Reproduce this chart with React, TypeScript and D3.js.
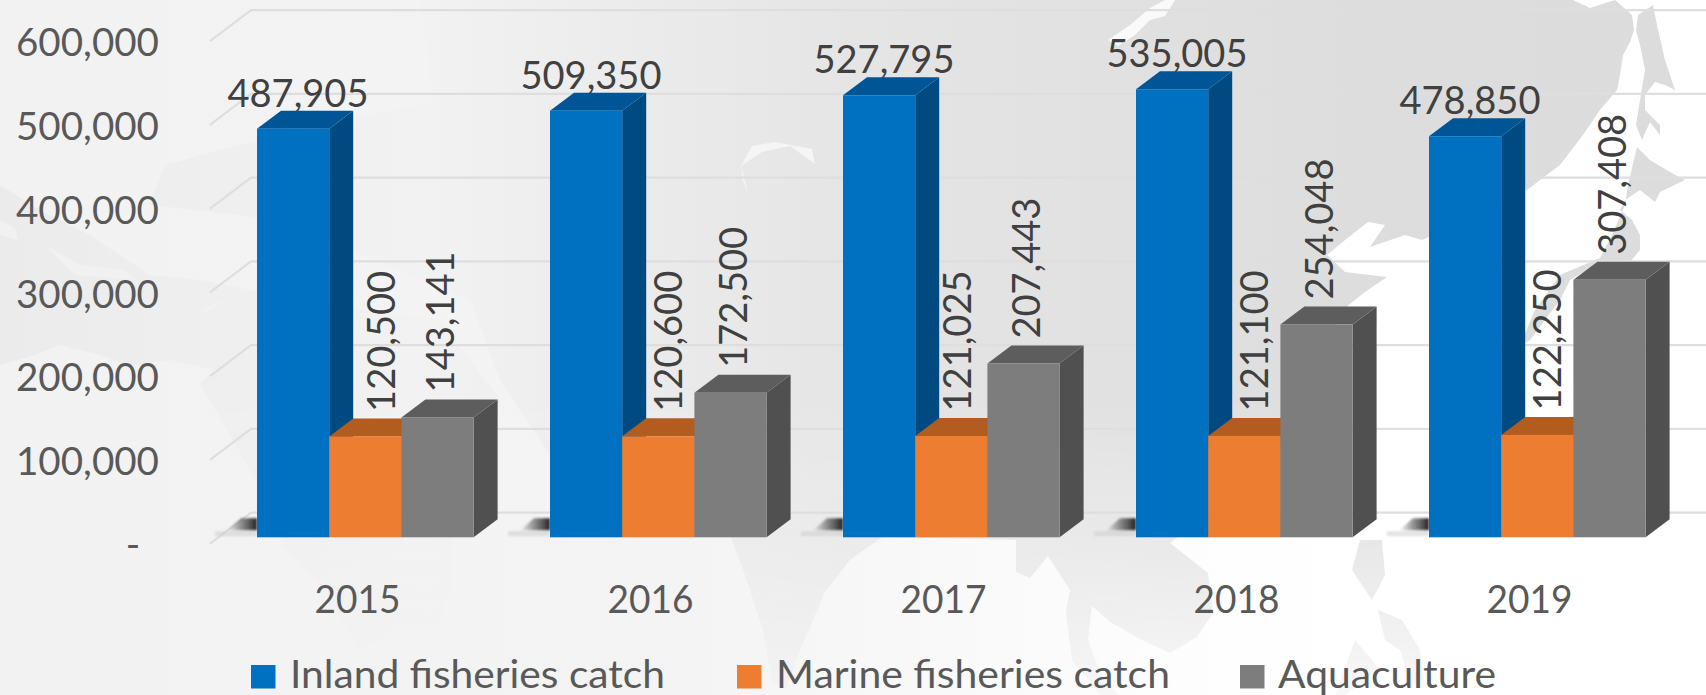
import React from "react";
import * as d3 from "d3";

const years = ["2015", "2016", "2017", "2018", "2019"];
const inland = [487905, 509350, 527795, 535005, 478850];
const marine = [120500, 120600, 121025, 121100, 122250];
const aquaculture = [143141, 172500, 207443, 254048, 307408];
const yTicks = [0, 100000, 200000, 300000, 400000, 500000, 600000];
const seriesNames = ["Inland fisheries catch", "Marine fisheries catch", "Aquaculture"];
const marineLabelNudge = [6, 0, -4, 0, 0];

const W = 1706, H = 695;
const FONT = "Lato, Carlito, sans-serif";
const FS = 39;

const baseY = 537.3;
const y = d3.scaleLinear().domain([0, 600000]).range([baseY, baseY - 502.5]);
const groupX = d3.scalePoint<string>().domain(years).range([257, 257 + 4 * 293]);
const barX = d3.scaleBand<number>().domain([0, 1, 2]).range([0, 216.6]);
const depthX = 24, depthY = 18;
const wallDY = 24.6, wallBackX = 251, wallFrontX = 210, wallFrontDY = 31;
const fmt = d3.format(",");

const palette = [
  { front: "#0070c0", top: "#005596", side: "#004a82" },
  { front: "#ed7d31", top: "#b25c20", side: "#8f4a1a" },
  { front: "#7d7d7d", top: "#5d5d5d", side: "#505050" },
];

// backdrop world map (decoration only)
const eurasia: [number, number][] = [
  [420, 0], [1573, 0], [1590, 8], [1615, 0], [1632, 15], [1634, 30], [1630, 42], [1623, 55], [1620, 75], [1617, 90], [1600, 110],
  [1583, 135], [1560, 165], [1540, 180], [1527, 190], [1480, 205], [1440, 232],
  [1422, 240], [1405, 235], [1370, 247], [1385, 225], [1368, 222], [1345, 240], [1327, 255], [1345, 272], [1387, 277],
  [1365, 292], [1340, 312], [1310, 400], [1262, 470], [1200, 520], [1170, 543], [1208, 573], [1213, 613], [1197, 637],
  [1170, 653], [1142, 640], [1110, 622], [1092, 606], [1088, 640], [1100, 672], [1118, 695], [1100, 695], [1072, 660],
  [1066, 612], [1070, 590], [1048, 556], [1030, 578], [1016, 572], [1016, 540], [882, 537], [850, 560], [825, 592],
  [800, 650], [785, 690], [772, 680], [762, 627], [745, 575], [732, 540], [705, 490], [640, 470], [560, 470], [500, 380],
  [470, 300], [440, 150],
];
const westLand: [number, number][] = [
  [0, 185], [40, 210], [90, 235], [150, 275], [200, 280], [300, 300], [440, 320], [500, 400], [470, 470], [452, 540], [451, 587], [435, 630],
  [380, 640], [359, 650], [344, 623], [321, 583], [285, 547], [250, 470], [200, 383], [215, 370], [170, 360], [130, 365], [100, 355],
  [60, 345], [35, 355], [0, 365],
];
const northWest: [number, number][] = [
  [150, 205], [165, 165], [220, 150], [300, 130], [440, 100], [470, 300], [300, 230], [240, 215],
];
const seaHoles: [number, number][][] = [
  [[0, 220], [15, 228], [18, 240], [0, 235]],
  [[45, 245], [80, 265], [125, 270], [135, 280], [75, 275]],
  [[200, 310], [228, 298], [205, 314]],
];
const sakhalin: [number, number][] = [
  [1638, 15], [1653, 5], [1657, 25], [1665, 60], [1675, 90], [1665, 85], [1655, 82], [1645, 95], [1645, 110], [1660, 125], [1660, 135],
  [1650, 122], [1642, 140], [1636, 125], [1640, 100], [1645, 70], [1640, 45], [1636, 30],
];
const japan: [number, number][] = [
  [1637, 147], [1650, 160], [1670, 172], [1685, 180], [1660, 192], [1655, 202], [1640, 190], [1625, 200], [1620, 210], [1632, 220],
  [1640, 235], [1640, 250], [1630, 262], [1600, 262], [1570, 280], [1560, 300], [1545, 320], [1530, 340], [1520, 345], [1535, 310], [1560, 275],
  [1600, 258], [1612, 235], [1625, 205], [1628, 185],
];
const philippines: [number, number][][] = [
  [[1360, 540], [1382, 540], [1385, 575], [1372, 600], [1362, 585], [1352, 570]],
  [[1378, 610], [1402, 620], [1420, 650], [1425, 690], [1410, 680], [1400, 650], [1385, 640]],
  [[1355, 640], [1380, 670], [1345, 695], [1335, 695]],
];
const balkhash: [number, number][] = [
  [741, 166], [748, 193], [743, 181], [741, 166], [752, 146], [775, 142], [812, 149], [815, 164], [790, 146], [762, 152],
];
const baikal: [number, number][] = [
  [1165, 0], [1175, 0], [1165, 16], [1150, 20], [1135, 35], [1118, 46], [1108, 40], [1130, 25], [1150, 8],
];

const line = d3.line();
const poly = (p: [number, number][]) => line(p) + "Z";

function Label({ children, ...rest }: any) {
  return <text fontFamily={FONT} {...rest}>{children}</text>;
}

function Bar({ x, w, value, c }: { x: number; w: number; value: number; c: (typeof palette)[0] }) {
  const yt = y(value);
  const frontR = x + w;
  const topPts: [number, number][] = [[x, yt], [frontR, yt], [frontR + depthX, yt - depthY], [x + depthX, yt - depthY]];
  const sidePts: [number, number][] = [[frontR, yt], [frontR + depthX, yt - depthY], [frontR + depthX, baseY - depthY], [frontR, baseY]];
  return (
    <g>
      <path d={poly(sidePts)} fill={c.side} />
      <path d={poly(topPts)} fill={c.top} />
      <rect x={x} y={yt} width={w} height={baseY - yt} fill={c.front} />
    </g>
  );
}

export default function App() {
  return (
    <svg width={W} height={H} viewBox={`0 0 ${W} ${H}`} style={{ position: "absolute", left: 0, top: 0, display: "block" }}>
      <defs>
        <linearGradient id="sea" x1="0" x2="1" y1="0" y2="0">
          <stop offset="0" stopColor="#f2f2f2" />
          <stop offset="0.4" stopColor="#f4f4f4" />
          <stop offset="0.68" stopColor="#fdfdfd" />
          <stop offset="0.8" stopColor="#ffffff" />
        </linearGradient>
        <linearGradient id="land" gradientUnits="userSpaceOnUse" x1="0" x2={W} y1="0" y2="0">
          <stop offset="0" stopColor="#ebebeb" />
          <stop offset="0.1" stopColor="#eeeeee" />
          <stop offset="0.25" stopColor="#f2f2f2" />
          <stop offset="0.34" stopColor="#ededed" />
          <stop offset="0.5" stopColor="#e5e5e5" />
          <stop offset="0.8" stopColor="#dddddd" />
          <stop offset="1" stopColor="#dcdcdc" />
        </linearGradient>
        <linearGradient id="fadeMask" gradientUnits="userSpaceOnUse" x1="0" x2="0" y1="400" y2={H}>
          <stop offset="0" stopColor="#fff" />
          <stop offset="0.5" stopColor="#aaa" />
          <stop offset="1" stopColor="#333" />
        </linearGradient>
        <mask id="fade" maskUnits="userSpaceOnUse" x="0" y="0" width={W} height={H}>
          <rect width={W} height={H} fill="url(#fadeMask)" />
        </mask>
        <linearGradient id="shadow" x1="0" x2="1" y1="0" y2="0">
          <stop offset="0" stopColor="#444" stopOpacity="0" />
          <stop offset="0.45" stopColor="#444" stopOpacity="0.55" />
          <stop offset="1" stopColor="#222" stopOpacity="1" />
        </linearGradient>
        <filter id="soft" x="-20%" y="-40%" width="140%" height="180%">
          <feGaussianBlur stdDeviation="1.2" />
        </filter>
      </defs>

      <rect width={W} height={H} fill="url(#sea)" />
      <g mask="url(#fade)">
        <g fill="url(#land)">
          <path d={poly(eurasia)} />
          <path d={poly(westLand)} />
          <path d={poly(northWest)} />
          <path d={poly(sakhalin)} />
          <path d={poly(japan)} />
          {philippines.map((p, i) => <path key={i} d={poly(p)} />)}
        </g>
      </g>
      {seaHoles.map((p, i) => <path key={i} d={poly(p)} fill="#f1f1f1" />)}
      <path d={poly(balkhash)} fill="#f5f5f5" />
      <path d={poly(baikal)} fill="#fafafa" />

      {/* walls and floor */}
      <g stroke="#dedede" strokeWidth={2.2} fill="none">
        {yTicks.map((t) => (
          <path
            key={t}
            d={line([
              [wallFrontX, y(t) - wallDY + wallFrontDY],
              [wallBackX, y(t) - wallDY],
              [W, y(t) - wallDY],
            ])!}
          />
        ))}
      </g>

      {/* contact shadows */}
      {years.map((yr) => {
        const x0 = groupX(yr)!;
        const s: [number, number][] = [[x0 - 30, baseY - 7], [x0 - 16, baseY - 19], [x0, baseY - 19], [x0, baseY - 7]];
        const b: [number, number][] = [[x0 - 42, baseY - 6], [x0, baseY - 6], [x0, baseY - 1], [x0 - 42, baseY - 1]];
        return (
          <g key={yr}>
            <path d={poly(b)} fill="#c9c9c9" opacity={0.5} filter="url(#soft)" />
            <path d={poly(s)} fill="url(#shadow)" filter="url(#soft)" />
          </g>
        );
      })}

      {/* bars */}
      {years.map((yr, i) => {
        const x0 = groupX(yr)!;
        const vals = [inland[i], marine[i], aquaculture[i]];
        return (
          <g key={yr}>
            {vals.map((v, s) => (
              <Bar key={s} x={x0 + barX(s)!} w={barX.bandwidth()} value={v} c={palette[s]} />
            ))}
          </g>
        );
      })}

      {/* value labels */}
      {years.map((yr, i) => {
        const x0 = groupX(yr)!;
        const xm = x0 + barX(1)! + 60 + marineLabelNudge[i];
        const xa = x0 + barX(2)! + 53;
        const ym = y(marine[i]) - depthY - 6.5;
        const ya = y(aquaculture[i]) - depthY - 7;
        return (
          <g key={yr} fontSize={FS} fill="#404040">
            <Label x={x0 + 41} y={y(inland[i]) - depthY - 4} textAnchor="middle" textLength={141} lengthAdjust="spacingAndGlyphs">
              {fmt(inland[i])}
            </Label>
            <Label transform={`translate(${xm},${ym}) rotate(-90)`} textLength={141} lengthAdjust="spacingAndGlyphs">
              {fmt(marine[i])}
            </Label>
            <Label transform={`translate(${xa},${ya}) rotate(-90)`} textLength={141} lengthAdjust="spacingAndGlyphs">
              {fmt(aquaculture[i])}
            </Label>
          </g>
        );
      })}

      {/* y axis */}
      <g fontSize={FS} fill="#595959">
        {yTicks.map((t) =>
          t === 0 ? (
            <Label key={t} x={133} y={y(t) + 21} textAnchor="middle">-</Label>
          ) : (
            <Label key={t} x={159} y={y(t) + 21.5} textAnchor="end" textLength={143} lengthAdjust="spacingAndGlyphs">
              {fmt(t)}
            </Label>
          )
        )}
      </g>

      {/* x axis */}
      <g fontSize={FS} fill="#595959">
        {years.map((yr) => (
          <Label key={yr} x={groupX(yr)! + 100.5} y={613} textAnchor="middle" textLength={86} lengthAdjust="spacingAndGlyphs">
            {yr}
          </Label>
        ))}
      </g>

      {/* legend */}
      <g fontSize={FS} fill="#595959">
        {seriesNames.map((n, i) => {
          const sx = [251, 737, 1240][i];
          const tx = [290, 776, 1278][i];
          const tw = [375, 394, 218][i];
          return (
            <g key={n}>
              <rect x={sx} y={665} width={24.5} height={23.5} fill={palette[i].front} />
              <Label x={tx} y={688} textLength={tw} lengthAdjust="spacingAndGlyphs">{n}</Label>
            </g>
          );
        })}
      </g>
    </svg>
  );
}
